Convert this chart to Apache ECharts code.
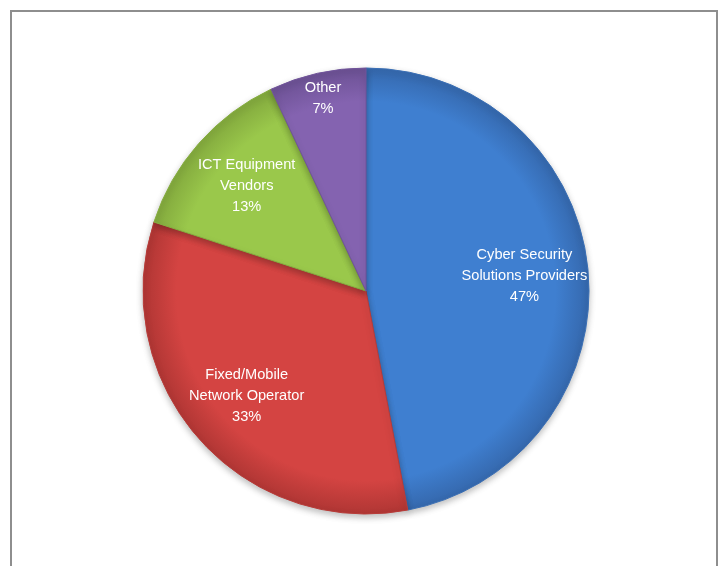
<!DOCTYPE html>
<html>
<head>
<meta charset="utf-8">
<script src="https://cdn.jsdelivr.net/npm/echarts@6/dist/echarts.min.js"></script>
<style>
html,body{margin:0;padding:0;background:#fff;}
#main{width:725px;height:566px;}
</style>
</head>
<body>
<div id="main"></div>
<script>
const categories = ["Cyber Security\nSolutions Providers", "Fixed/Mobile\nNetwork Operator", "ICT Equipment\nVendors", "Other"];
const values = [47, 33, 13, 7];
const outerLabelCategories = ["Other"];

const baseColors = ["#3f7fd0", "#d44442", "#9ac84b", "#8463b0"];
const edgeColors = ["#3568ad", "#b03634", "#82a83d", "#6c5194"];
const borderColors = ["#3a6fb5", "#b83b38", "#86ae40", "#70539a"];

const CX = 366, CY = 291, R = 223;

const chart = echarts.init(document.getElementById('main'), null, {renderer: 'canvas'});

const pieData = categories.map((name, i) => ({
  name: name,
  value: values[i],
  itemStyle: {
    color: {
      type: 'radial', x: CX, y: CY, r: R, global: true,
      colorStops: [
        {offset: 0, color: baseColors[i]},
        {offset: 0.85, color: baseColors[i]},
        {offset: 1, color: edgeColors[i]}
      ]
    },
    borderColor: borderColors[i],
    borderWidth: 1
  }
}));

const labelData = categories.map((name, i) => ({name: name, value: values[i]}));
const labelStyle = {
  show: true,
  position: 'inside',
  color: '#ffffff',
  fontFamily: 'Liberation Sans, Arial, sans-serif',
  fontSize: 14.6,
  lineHeight: 21,
  align: 'center'
};

chart.setOption({
  backgroundColor: '#ffffff',
  animation: false,
  graphic: [{
    type: 'rect',
    shape: {x: 11, y: 11, width: 706, height: 620},
    style: {fill: 'none', stroke: '#8e8e8e', lineWidth: 2},
    silent: true, z: 100
  }],
  series: [
    {
      type: 'pie',
      center: [CX, CY],
      radius: R,
      startAngle: 90,
      clockwise: true,
      label: {show: false},
      labelLine: {show: false},
      emphasis: {disabled: true},
      itemStyle: {shadowBlur: 6, shadowColor: 'rgba(0,0,0,0.25)', shadowOffsetY: 3},
      data: pieData,
      z: 1
    },
    {
      type: 'pie',
      center: [CX, CY],
      radius: [R * 0.52, R * 0.88],
      startAngle: 90,
      silent: true,
      itemStyle: {color: 'rgba(0,0,0,0)'},
      label: Object.assign({}, labelStyle, {
        formatter: p => outerLabelCategories.includes(p.name) ? '' : p.name + '\n' + p.percent + '%'
      }),
      labelLine: {show: false},
      emphasis: {disabled: true},
      data: labelData,
      z: 3
    },
    {
      type: 'pie',
      center: [CX, CY],
      radius: [R * 0.76, R * 0.98],
      startAngle: 90,
      silent: true,
      itemStyle: {color: 'rgba(0,0,0,0)'},
      label: Object.assign({}, labelStyle, {
        formatter: p => outerLabelCategories.includes(p.name) ? p.name + '\n' + p.percent + '%' : ''
      }),
      labelLine: {show: false},
      emphasis: {disabled: true},
      data: labelData,
      z: 3
    }
  ]
});
</script>
</body>
</html>
